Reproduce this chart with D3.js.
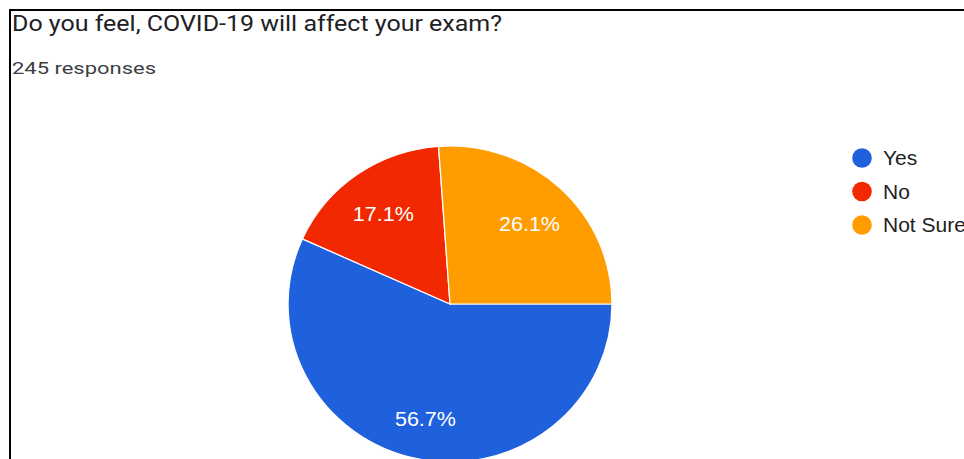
<!DOCTYPE html>
<html>
<head>
<meta charset="utf-8">
<script src="https://cdn.jsdelivr.net/npm/d3@7"></script>
<style>
  body { margin: 0; background: #fff; }
  svg { display: block; }
</style>
</head>
<body>
<div id="chart"></div>
<script>
// datos
var categories = ["Yes", "No", "Not Sure"];
var percents = [56.7, 17.1, 26.1];
var colors = ["#1f60dd", "#f22800", "#ff9d00"];
var title = "Do you feel, COVID-19 will affect your exam?";
var subtitle = "245 responses";

var width = 964;
var height = 459;

var data = categories.map((c, i) => ({ name: c, value: percents[i], color: colors[i] }));

var svg = d3
  .select("#chart")
  .append("svg")
  .attr("width", width)
  .attr("height", height);

svg.append("rect").attr("width", width).attr("height", height).attr("fill", "#fff");

// borde del recorte
svg.append("line")
  .attr("x1", 9).attr("x2", width)
  .attr("y1", 10).attr("y2", 10)
  .attr("stroke", "#000").attr("stroke-width", 2);
svg.append("line")
  .attr("x1", 10).attr("x2", 10)
  .attr("y1", 9).attr("y2", height)
  .attr("stroke", "#000").attr("stroke-width", 2);

// titulos
svg.append("text")
  .text(title)
  .attr("x", 12)
  .attr("y", 31)
  .attr("textLength", 490)
  .attr("lengthAdjust", "spacingAndGlyphs")
  .attr("fill", "#202124")
  .style("font", "22px Roboto, sans-serif");

svg.append("text")
  .text(subtitle)
  .attr("x", 12)
  .attr("y", 74)
  .attr("textLength", 144)
  .attr("lengthAdjust", "spacingAndGlyphs")
  .attr("fill", "#3c4043")
  .style("font", "17px Roboto, sans-serif");

// pie
var r = 158;
var pie = d3
  .pie()
  .value((d) => d.value)
  .sort(null)
  .startAngle(Math.PI / 2)
  .endAngle(Math.PI / 2 + 2 * Math.PI);

var arc = d3.arc().innerRadius(0).outerRadius(r);
var labelArc = d3.arc().innerRadius(r * 0.72).outerRadius(r * 0.72);

var g = svg
  .append("g")
  .attr("transform", `translate(450 304) scale(1.025 1)`);

var arcs = pie(data);

g.selectAll("path")
  .data(arcs)
  .enter()
  .append("path")
  .attr("d", arc)
  .attr("fill", (d) => d.data.color)
  .attr("stroke", "#fff")
  .attr("stroke-width", 1.2);

g.selectAll("text")
  .data(arcs)
  .enter()
  .append("text")
  .attr("transform", (d) => `translate(${labelArc.centroid(d)})`)
  .attr("text-anchor", "middle")
  .attr("dy", "0.5em")
  .attr("fill", "#fff")
  .style("font", "21px 'Liberation Sans', Arial, sans-serif")
  .text((d) => d.data.value.toFixed(1) + "%");

// leyenda
var legend = svg
  .append("g")
  .attr("transform", "translate(862 158)");

var items = legend
  .selectAll("g")
  .data(data)
  .enter()
  .append("g")
  .attr("transform", (d, i) => `translate(0 ${i * 33.5})`);

items.append("circle")
  .attr("r", 9.8)
  .attr("fill", (d) => d.color);

items.append("text")
  .text((d) => d.name)
  .attr("x", 21)
  .attr("y", 7)
  .attr("fill", "#222")
  .style("font", "21px 'Liberation Sans', Arial, sans-serif");
</script>
</body>
</html>
